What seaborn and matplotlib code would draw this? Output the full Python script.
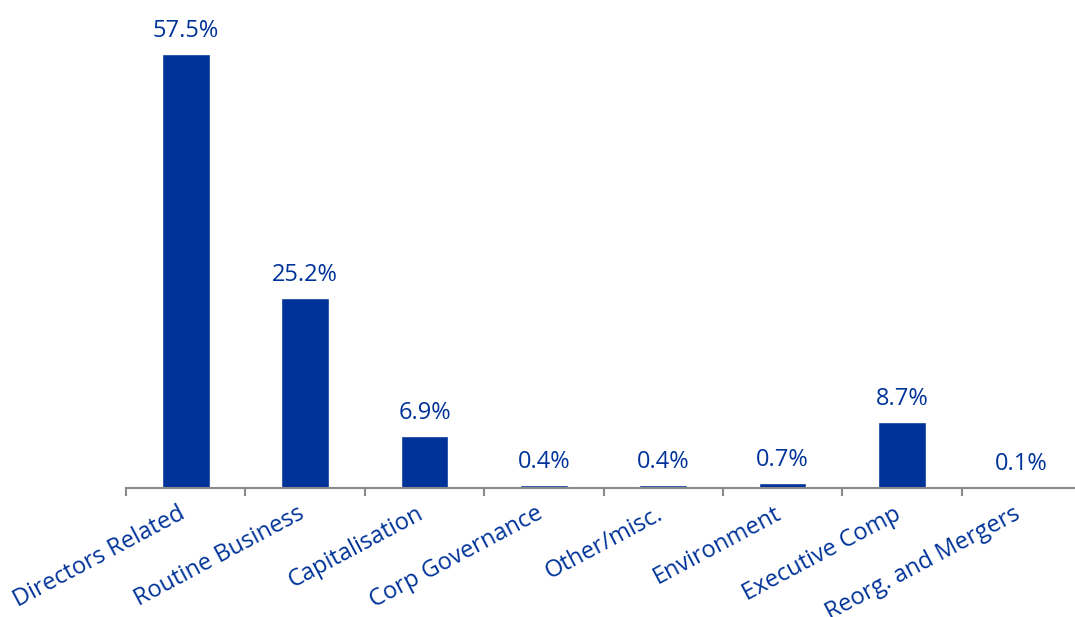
import numpy as np
import pandas as pd
import matplotlib
matplotlib.use('Agg')
import matplotlib.pyplot as plt
import matplotlib.transforms as mtrans
import seaborn as sns

categories = ['Directors Related', 'Routine Business', 'Capitalisation',
              'Corp Governance', 'Other/misc.', 'Environment',
              'Executive Comp', 'Reorg. and Mergers']
shares = [57.5, 25.2, 6.9, 0.4, 0.4, 0.7, 8.7, 0.1]

BLUE = '#003399'
GREY = '#898989'

sns.set_theme(style='white')
plt.rcParams['font.family'] = ['Open Sans', 'DejaVu Sans']

df = pd.DataFrame({'category': categories, 'share': shares})

fig = plt.figure(figsize=(10.75, 6.17), dpi=100)
ax = fig.add_axes([126 / 1075, 129 / 617, 955 / 1075, 453 / 617])

sns.barplot(data=df, x='category', y='share', color=BLUE, width=0.4,
            saturation=1, ax=ax)

ax.bar_label(ax.containers[0], fmt='%.1f%%', padding=8,
             fontsize=17, color=BLUE)

ax.set_ylim(0, 60)
ax.set_xlim(-0.5, len(categories) - 0.5)
ax.set_xlabel('')
ax.set_ylabel('')
ax.set_yticks([])

for side in ['top', 'right', 'left']:
    ax.spines[side].set_visible(False)
ax.spines['bottom'].set_color(GREY)
ax.spines['bottom'].set_linewidth(1.5)

# tick marks sit between the categories, labels stay centred
ax.set_xticks(np.arange(-0.5, len(categories), 1), minor=True)
ax.tick_params(axis='x', which='minor', direction='out', length=6,
               width=1.5, color=GREY, bottom=True)
ax.tick_params(axis='x', which='major', length=0, pad=10)
ax.set_xticks(range(len(categories)))
ax.set_xticklabels(categories, rotation=28, ha='right',
                   rotation_mode='anchor', fontsize=17, color=BLUE)
shift = mtrans.ScaledTranslation(-8 / 100, 0, fig.dpi_scale_trans)
for lbl in ax.get_xticklabels():
    lbl.set_transform(lbl.get_transform() + shift)

fig.savefig('out.png', dpi=100)
